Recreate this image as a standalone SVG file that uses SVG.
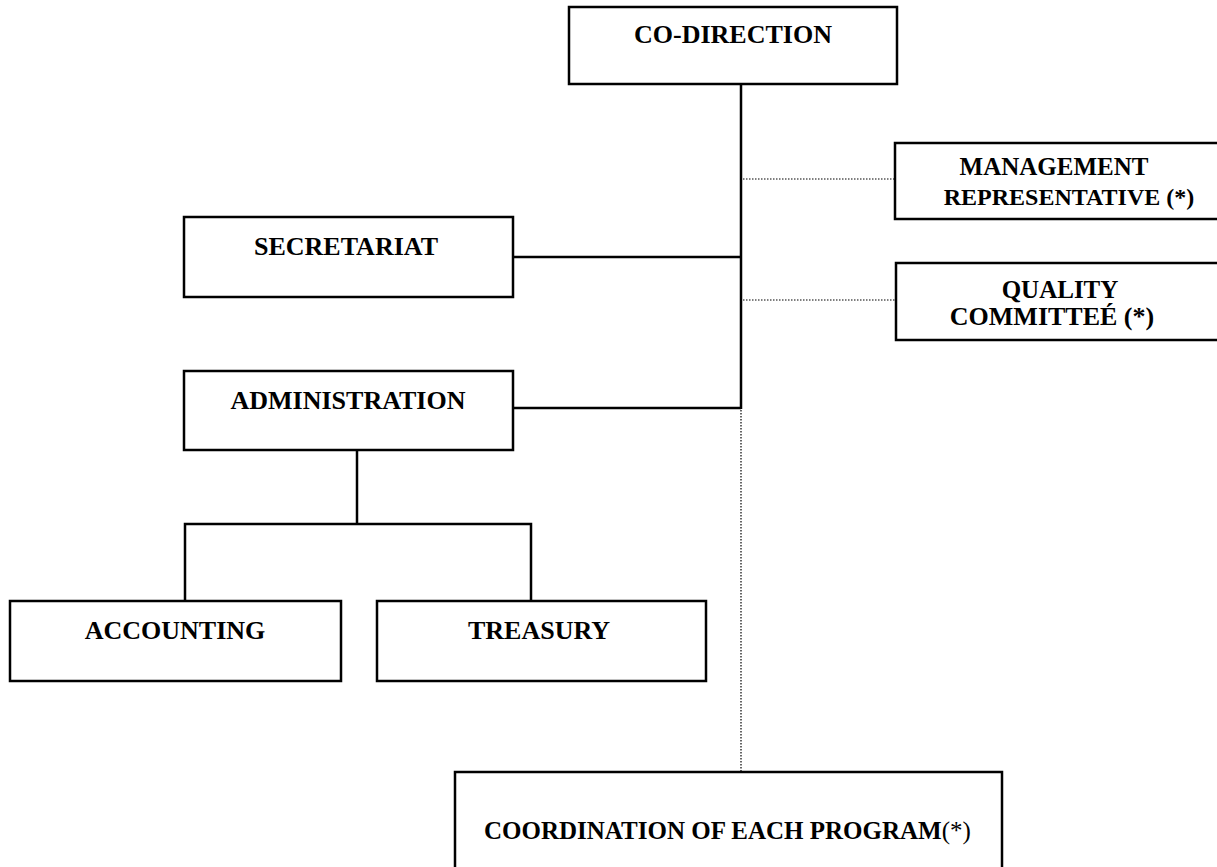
<svg xmlns="http://www.w3.org/2000/svg" width="1217" height="867" viewBox="0 0 1217 867">
<style>
.box{fill:#fff;stroke:#000;stroke-width:2.5}
.t{font-family:"Liberation Serif","Times New Roman",serif;font-weight:bold;font-size:26px;fill:#000;text-anchor:middle}
.s24{font-size:24px}
.s25{font-size:25px}
.n{font-weight:normal}
.solid{stroke:#000;stroke-width:2.5;fill:none}
.dot{stroke:#000;stroke-width:1.2;stroke-dasharray:1.5 1.5;fill:none}
</style>
<rect width="1217" height="867" fill="#fff"/>
<g id="connectors">
<line class="solid" x1="741" y1="84" x2="741" y2="409"/>
<line class="solid" x1="513" y1="257" x2="741" y2="257"/>
<line class="solid" x1="511" y1="408" x2="741" y2="408"/>
<line class="dot" x1="743" y1="179" x2="894" y2="179"/>
<line class="dot" x1="743" y1="300" x2="896" y2="300"/>
<line class="dot" x1="741" y1="410" x2="741" y2="772"/>
<line class="solid" x1="357" y1="450" x2="357" y2="524"/>
<polyline class="solid" points="185,601 185,524 531,524 531,601"/>
</g>
<g id="co-direction">
<rect class="box" x="569" y="7" width="328" height="77"/>
<text class="t" x="733" y="43">CO-DIRECTION</text>
</g>
<g id="management-representative">
<rect class="box" x="895" y="143" width="340" height="76"/>
<text class="t s25" x="1054" y="175">MANAGEMENT</text>
<text class="t s24" x="1069" y="205">REPRESENTATIVE (*)</text>
</g>
<g id="secretariat">
<rect class="box" x="184" y="217" width="329" height="80"/>
<text class="t" x="346" y="255">SECRETARIAT</text>
</g>
<g id="quality-committee">
<rect class="box" x="896" y="263" width="340" height="77"/>
<text class="t s25" x="1060" y="298">QUALITY</text>
<text class="t" x="1052" y="325">COMMITTEÉ (*)</text>
</g>
<g id="administration">
<rect class="box" x="184" y="371" width="329" height="79"/>
<text class="t" x="348" y="409">ADMINISTRATION</text>
</g>
<g id="accounting">
<rect class="box" x="10" y="601" width="331" height="80"/>
<text class="t" x="175" y="639">ACCOUNTING</text>
</g>
<g id="treasury">
<rect class="box" x="377" y="601" width="329" height="80"/>
<text class="t" x="539" y="639">TREASURY</text>
</g>
<g id="coordination">
<rect class="box" x="455" y="772" width="547" height="110"/>
<text class="t s25" x="484" y="839" text-anchor="start" style="text-anchor:start">COORDINATION OF EACH PROGRAM<tspan class="n">(*)</tspan></text>
</g>
</svg>
